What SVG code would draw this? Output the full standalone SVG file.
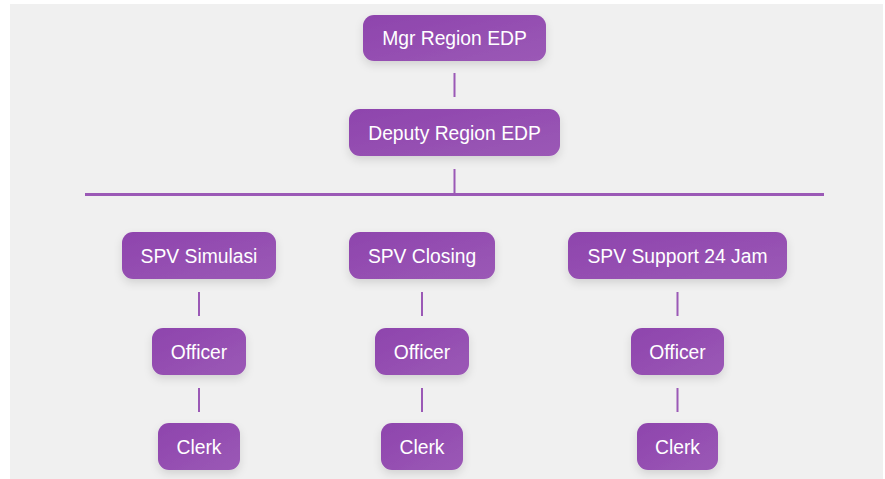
<svg xmlns="http://www.w3.org/2000/svg" width="885" height="479" viewBox="0 0 885 479">
  <style>
    .box { fill: url(#nodeFill); filter: url(#shadow); }
    .label { fill: #ffffff; font-family: "Liberation Sans", Arial, sans-serif; font-size: 19.3px; text-anchor: middle; }
    .link { stroke: #9b59b6; stroke-width: 2; fill: none; }
    .bar { stroke: #9b59b6; stroke-width: 3; fill: none; }
  </style>
  <defs>
    <linearGradient id="nodeFill" x1="0" y1="0" x2="1" y2="1">
      <stop offset="0" stop-color="#8e44ad"/>
      <stop offset="1" stop-color="#9b59b6"/>
    </linearGradient>
    <filter id="shadow" x="-20%" y="-20%" width="140%" height="160%">
      <feDropShadow dx="0" dy="4" stdDeviation="4" flood-color="#000000" flood-opacity="0.12"/>
    </filter>
  </defs>

  <rect x="0" y="0" width="885" height="479" fill="#ffffff"/>
  <rect x="10" y="4" width="873" height="475" fill="#f0f0f0"/>

  <g id="connectors">
    <line class="link" x1="454.5" y1="73" x2="454.5" y2="97"/>
    <line class="link" x1="454.5" y1="169" x2="454.5" y2="193"/>
    <line class="bar" x1="85" y1="194.5" x2="824" y2="194.5"/>
    <line class="link" x1="199" y1="292" x2="199" y2="316"/>
    <line class="link" x1="199" y1="388" x2="199" y2="412"/>
    <line class="link" x1="422" y1="292" x2="422" y2="316"/>
    <line class="link" x1="422" y1="388" x2="422" y2="412"/>
    <line class="link" x1="677.5" y1="292" x2="677.5" y2="316"/>
    <line class="link" x1="677.5" y1="388" x2="677.5" y2="412"/>
  </g>

  <g id="mgr">
    <rect class="box" x="363" y="15" width="183" height="46" rx="11"/>
    <text class="label" x="454.5" y="45">Mgr Region EDP</text>
  </g>
  <g id="deputy">
    <rect class="box" x="349" y="109" width="211" height="47" rx="11"/>
    <text class="label" x="454.5" y="139.5">Deputy Region EDP</text>
  </g>

  <g id="spv-simulasi">
    <rect class="box" x="122" y="232" width="154" height="47" rx="11"/>
    <text class="label" x="199" y="262.5">SPV Simulasi</text>
  </g>
  <g id="spv-closing">
    <rect class="box" x="349" y="232" width="146" height="47" rx="11"/>
    <text class="label" x="422" y="262.5">SPV Closing</text>
  </g>
  <g id="spv-support">
    <rect class="box" x="568" y="232" width="219" height="47" rx="11"/>
    <text class="label" x="677.5" y="262.5">SPV Support 24 Jam</text>
  </g>

  <g id="officer-simulasi">
    <rect class="box" x="152" y="328" width="94" height="47" rx="11"/>
    <text class="label" x="199" y="358.5">Officer</text>
  </g>
  <g id="officer-closing">
    <rect class="box" x="375" y="328" width="94" height="47" rx="11"/>
    <text class="label" x="422" y="358.5">Officer</text>
  </g>
  <g id="officer-support">
    <rect class="box" x="631" y="328" width="93" height="47" rx="11"/>
    <text class="label" x="677.5" y="358.5">Officer</text>
  </g>

  <g id="clerk-simulasi">
    <rect class="box" x="158" y="423" width="82" height="47" rx="11"/>
    <text class="label" x="199" y="453.5">Clerk</text>
  </g>
  <g id="clerk-closing">
    <rect class="box" x="381" y="423" width="82" height="47" rx="11"/>
    <text class="label" x="422" y="453.5">Clerk</text>
  </g>
  <g id="clerk-support">
    <rect class="box" x="637" y="423" width="81" height="47" rx="11"/>
    <text class="label" x="677.5" y="453.5">Clerk</text>
  </g>
</svg>
